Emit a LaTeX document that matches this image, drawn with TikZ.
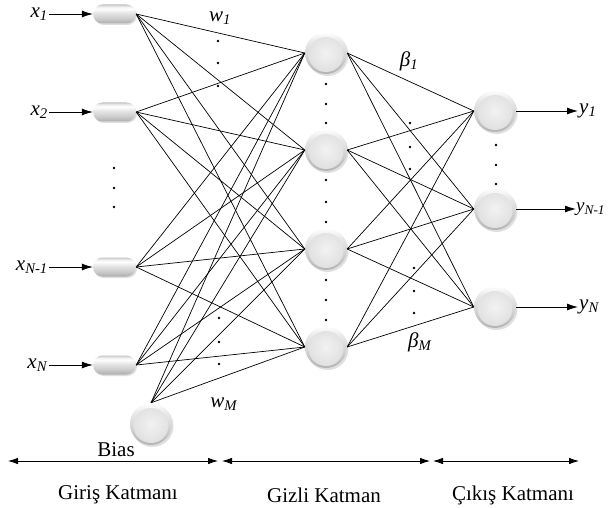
\documentclass[tikz,border=0pt]{standalone}
\usepackage{fontspec}
\setmainfont{Liberation Serif}
\usetikzlibrary{shapes.misc,arrows.meta,shadows}
\pgfdeclareverticalshading{capsuleshade}{100bp}{color(0bp)=(gray!65); color(25bp)=(gray!65); color(38bp)=(gray!40); color(52bp)=(gray!22); color(64bp)=(white); color(70bp)=(gray!15); color(75bp)=(gray!45); color(100bp)=(gray!45)}
\pgfdeclareverticalshading{ballrim}{100bp}{color(0bp)=(gray!60); color(25bp)=(gray!60); color(45bp)=(gray!35); color(65bp)=(gray!15); color(75bp)=(white); color(100bp)=(white)}
\begin{document}
\begin{tikzpicture}[x=1pt,y=-1pt,
  font=\fontsize{21}{24}\selectfont,
  inp/.style={rounded rectangle, minimum width=43pt, minimum height=19pt, inner sep=0pt,
    shading=capsuleshade,
    drop shadow={shadow xshift=1pt, shadow yshift=-1.5pt, opacity=0.25}},
  neuron/.style={circle, minimum size=42pt, inner sep=0pt, shading=ballrim,
    drop shadow={shadow xshift=1.5pt, shadow yshift=-2pt, opacity=0.25},
    path picture={\shade[inner color=gray!10, outer color=gray!26]
      ([yshift=-1.5pt]path picture bounding box.center) circle (17.5pt);}},
  conn/.style={black, line width=0.7pt},
  arr/.style={-{Latex[length=11pt,width=7pt]}, line width=0.8pt},
  barr/.style={{Latex[length=10pt,width=6.5pt]}-{Latex[length=10pt,width=6.5pt]}, line width=0.8pt},
  lbl/.style={inner sep=1pt},
  dotm/.style={fill=black}
]
\useasboundingbox (0,0) rectangle (608,508);

% input layer
\node[inp] (i1) at (114.5,14) {};
\node[inp] (i2) at (114.5,112) {};
\node[inp] (i3) at (114.5,267) {};
\node[inp] (i4) at (114.5,365) {};
\node[neuron] (bias) at (151,424) {};

% hidden layer
\node[neuron] (h1) at (326,53) {};
\node[neuron] (h2) at (326,150) {};
\node[neuron] (h3) at (326,249) {};
\node[neuron] (h4) at (326,347) {};

% output layer
\node[neuron] (o1) at (495,111) {};
\node[neuron] (o2) at (495,209) {};
\node[neuron] (o3) at (495,307) {};

% connections
\foreach \i in {1,...,4}{\foreach \h in {1,...,4}{\draw[conn] (i\i.east) -- (h\h.west);}}
\foreach \h in {1,...,4}{\draw[conn] (bias.north) -- (h\h.west);}
\foreach \h in {1,...,4}{\foreach \o in {1,2,3}{\draw[conn] (h\h.east) -- (o\o.west);}}

% input labels and arrows
\node[lbl, anchor=east] (lx1) at (49,14) {\textit{x}\textsubscript{\textit{1}}};
\node[lbl, anchor=east] (lx2) at (49,112) {\textit{x}\textsubscript{\textit{2}}};
\node[lbl, anchor=east] (lx3) at (49,267) {\textit{x}\textsubscript{\textit{N-1}}};
\node[lbl, anchor=east] (lx4) at (49,365) {\textit{x}\textsubscript{\textit{N}}};
\foreach \i in {1,...,4}{\draw[arr] (lx\i.east) -- (i\i.west);}

% output labels and arrows
\node[lbl, anchor=west] (ly1) at (578,111) {\textit{y}\textsubscript{\textit{1}}};
\node[inner sep=0pt, anchor=west, font=\fontsize{19}{22}\selectfont] (ly2) at (576,209) {\textit{y}\textsubscript{\textit{N-1}}};
\node[lbl, anchor=west] (ly3) at (578,307) {\textit{y}\textsubscript{\textit{N}}};
\foreach \o in {1,2,3}{\draw[arr] (o\o.east) -- (ly\o.west);}

% weight labels
\node[lbl] (w1) at (220,18) {\textit{w}\textsubscript{\textit{1}}};
\node[lbl] (wM) at (224,404) {\textit{w}\textsubscript{\textit{M}}};
\node[lbl] (b1) at (409,61) {\textit{β}\textsubscript{\textit{1}}};
\node[lbl] (bM) at (420,342) {\textit{β}\textsubscript{\textit{M}}};

% dots
\foreach \x/\y in {114/168,114/188,114/207,
  218/41,218/63,218/86, 219/318,219/342,219/364,
  326/84,326/104,326/123, 326/180,326/202,326/222, 326/280,326/300,326/320,
  410/123,410/147,410/169, 414/268,414/291,414/313,
  496/145,496/165,496/184}
  {\fill[dotm] (\x,\y) circle (1.3pt);}

% bias label
\node[lbl] (biaslbl) at (116,450) {Bias};

% layer arrows
\coordinate (a1) at (8,461);
\coordinate (a2) at (218,461);
\coordinate (a3) at (222,461);
\coordinate (a4) at (430,461);
\coordinate (a5) at (433,461);
\coordinate (a6) at (579,461);
\draw[barr] (a1) -- (a2);
\draw[barr] (a3) -- (a4);
\draw[barr] (a5) -- (a6);

\node[lbl] (L1) at (118,495) {Giriş Katmanı};
\node[lbl] (L2) at (324,495) {Gizli Katman};
\node[lbl] (L3) at (513,495) {Çıkış Katmanı};
\end{tikzpicture}
\end{document}
